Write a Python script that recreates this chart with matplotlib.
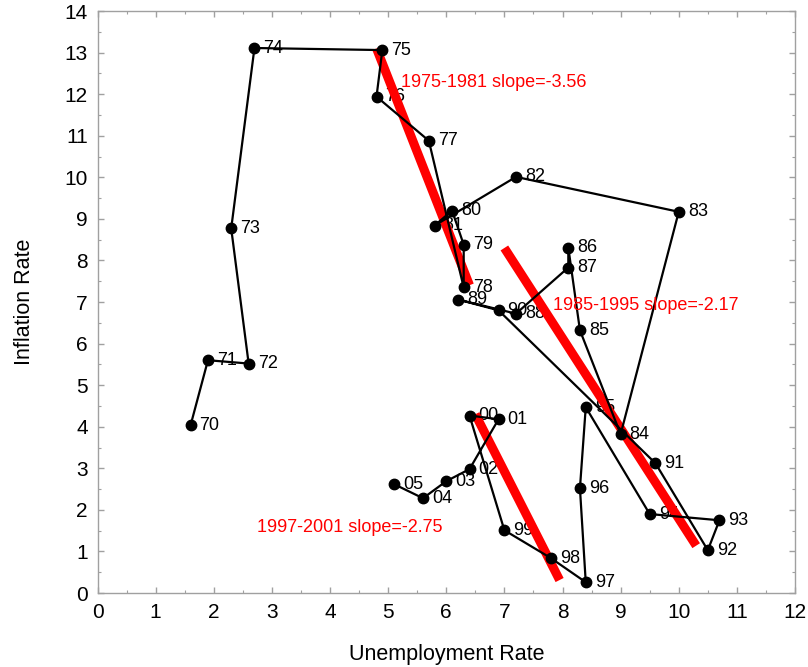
import matplotlib
matplotlib.use('Agg')
import matplotlib.pyplot as plt
import numpy as np

# Phillips curve style scatter: unemployment vs inflation by year
years = ['70', '71', '72', '73', '74', '75', '76', '77', '78', '79',
         '80', '81', '82', '83', '84', '85', '86', '87', '88', '89',
         '90', '91', '92', '93', '94', '95', '96', '97', '98', '99',
         '00', '01', '02', '03', '04', '05']
unemployment = [1.6, 1.9, 2.6, 2.3, 2.7, 4.9, 4.8, 5.7, 6.3, 6.3,
                6.1, 5.8, 7.2, 10.0, 9.0, 8.3, 8.1, 8.1, 7.2, 6.2,
                6.9, 9.6, 10.5, 10.7, 9.5, 8.4, 8.3, 8.4, 7.8, 7.0,
                6.4, 6.9, 6.4, 6.0, 5.6, 5.1]
inflation = [4.03, 5.6, 5.52, 8.77, 13.11, 13.06, 11.94, 10.88, 7.35, 8.38,
             9.2, 8.84, 10.01, 9.17, 3.82, 6.32, 8.31, 7.83, 6.72, 7.06,
             6.8, 3.12, 1.03, 1.75, 1.9, 4.47, 2.52, 0.26, 0.84, 1.51,
             4.27, 4.18, 2.98, 2.69, 2.28, 2.62]

# fitted trend segments for three periods
fit_periods = ['1975-1981', '1985-1995', '1997-2001']
fit_slopes = [-3.56, -2.17, -2.75]
fit_x_start = [4.8, 7.0, 6.5]
fit_x_end = [6.4, 10.3, 7.95]
fit_y_start = [13.1, 8.3, 4.3]
fit_label_x = [5.22, 7.84, 2.74]
fit_label_y = [12.27, 6.92, 1.58]

plt.rcParams['font.family'] = ['Liberation Sans', 'DejaVu Sans']

fig = plt.figure(figsize=(8.08, 6.67), dpi=100)
ax = fig.add_axes([0.1207, 0.1109, 0.8632, 0.8726])

# year labels next to each point
for yr, xv, yv in zip(years, unemployment, inflation):
    ax.annotate(yr, (xv, yv), xytext=(6.5, 0), textcoords='offset points',
                ha='left', va='center', fontsize=13, color='black', zorder=1)

# red regression segments
for s, x0, x1, y0 in zip(fit_slopes, fit_x_start, fit_x_end, fit_y_start):
    xs = np.array([x0, x1])
    ys = y0 + s * (xs - x0)
    ax.plot(xs, ys, color='red', linewidth=6.5, solid_capstyle='butt', zorder=2)

ax.plot(unemployment, inflation, color='black', linewidth=1.6, zorder=3)
ax.plot(unemployment, inflation, 'o', color='black', markersize=7.5, zorder=4)

for per, s, lx, ly in zip(fit_periods, fit_slopes, fit_label_x, fit_label_y):
    ax.text(lx, ly, f'{per} slope={s:.2f}', color='red', fontsize=13,
            ha='left', va='center', zorder=5)

ax.set_xlim(0, 12)
ax.set_ylim(0, 14)
ax.set_xticks(np.arange(0, 13, 1))
ax.set_yticks(np.arange(0, 15, 1))
ax.set_xticks(np.arange(0.5, 12, 1), minor=True)
ax.set_yticks(np.arange(0.5, 14, 1), minor=True)

frame = '#a0a0a0'
for sp in ax.spines.values():
    sp.set_color(frame)
    sp.set_linewidth(1.0)
ax.tick_params(which='both', direction='in', top=True, right=True,
               color=frame, labelsize=15, labelcolor='black')
ax.tick_params(which='major', length=4, width=1, pad=7)
ax.tick_params(which='minor', length=2.5, width=0.8)

ax.set_xlabel('Unemployment Rate', fontsize=15.5, labelpad=16)
ax.set_ylabel('Inflation Rate', fontsize=15.5, labelpad=21)

fig.savefig('out.png', dpi=100)
